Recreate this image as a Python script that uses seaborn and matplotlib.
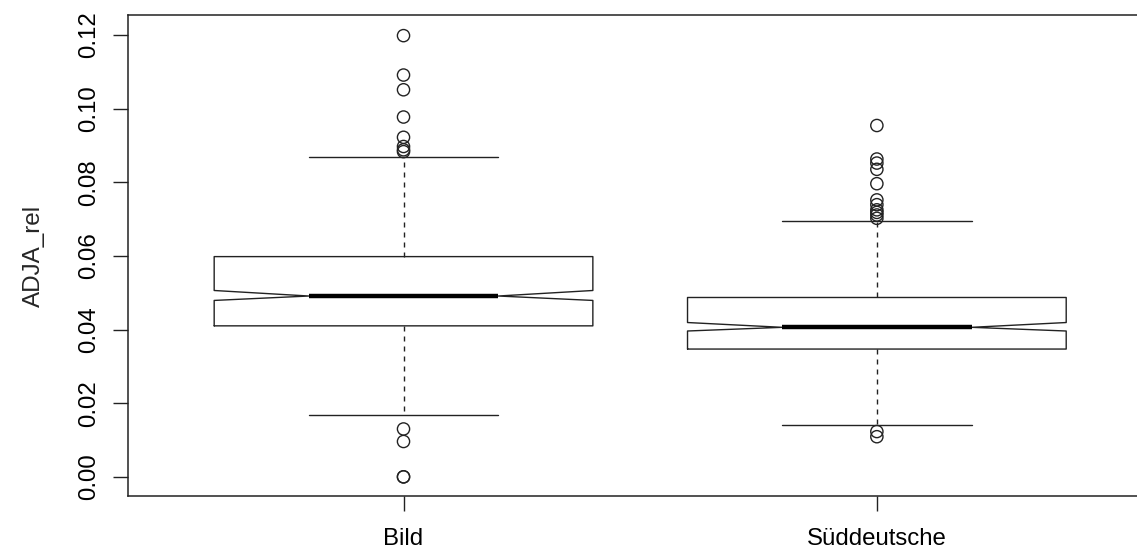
import numpy as np
import pandas as pd
import matplotlib
matplotlib.use("Agg")
import matplotlib.pyplot as plt
import seaborn as sns

# ----------------------- Werte
papers = ["Bild", "Süddeutsche"]
q1 = [0.0410, 0.0347]
median = [0.0491, 0.0406]
q3 = [0.0598, 0.0487]
whisker_lo = [0.0168, 0.0140]
whisker_hi = [0.0868, 0.0696]
notch_lo = [0.0479, 0.0396]
notch_hi = [0.0506, 0.0419]

outliers_bild = [0.1198, 0.1091, 0.1051, 0.0977, 0.0922, 0.0897, 0.0888, 0.0883,
                 0.0130, 0.0096, 0.0000, 0.0000]
outliers_sz = [0.0954, 0.0863, 0.0852, 0.0835, 0.0796, 0.0752, 0.0739, 0.0725,
               0.0718, 0.0711, 0.0702, 0.0123, 0.0109]

y_ticks = [0.00, 0.02, 0.04, 0.06, 0.08, 0.10, 0.12]

sns.set_theme(style="ticks")
plt.rcParams['font.family'] = ['Liberation Sans', 'DejaVu Sans']

line_col = "#222222"

stats = []
for i, name in enumerate(papers):
    stats.append({
        "label": name,
        "med": median[i],
        "q1": q1[i],
        "q3": q3[i],
        "whislo": whisker_lo[i],
        "whishi": whisker_hi[i],
        "cilo": notch_lo[i],
        "cihi": notch_hi[i],
        "fliers": [],
    })

outlier_df = pd.DataFrame({
    "paper": [papers[0]] * len(outliers_bild) + [papers[1]] * len(outliers_sz),
    "ADJA_rel": outliers_bild + outliers_sz,
})

fig = plt.figure(figsize=(11.37, 5.54), dpi=100)
# rechte Kante des Rahmens liegt ausserhalb des Bildes (wie im Original)
ax = fig.add_axes([0.1126, 0.1047, 0.9009, 0.8682])

ax.bxp(stats, positions=[0, 1], widths=0.8, shownotches=True, showfliers=False,
       boxprops=dict(color=line_col, linewidth=1.0),
       whiskerprops=dict(color=line_col, linewidth=1.0, linestyle=(0, (3.6, 3.6))),
       capprops=dict(color=line_col, linewidth=1.0),
       medianprops=dict(color="black", linewidth=3.2, solid_capstyle="butt"))

sns.stripplot(data=outlier_df, x="paper", y="ADJA_rel", order=papers, jitter=False,
              marker="o", size=8.8, linewidth=1.0, edgecolor=line_col, color="white",
              ax=ax, zorder=3)
for coll in ax.collections:
    coll.set_facecolor("none")
    coll.set_edgecolor(line_col)

ax.set_xlim(-0.582, 1.582)
ax.set_ylim(-0.0052, 0.1254)
ax.set_xticks([0, 1])
ax.set_xticklabels(papers)
ax.set_yticks(y_ticks)
ax.set_yticklabels([f"{v:.2f}" for v in y_ticks], rotation=90, va="center")
ax.set_xlabel("")
ax.set_ylabel("ADJA_rel", fontsize=17.5, labelpad=24)

ax.tick_params(axis="both", length=10.8, width=1.0, color=line_col, labelsize=17.3,
               labelcolor="black")
ax.tick_params(axis="x", pad=12.6)
ax.tick_params(axis="y", pad=9.4)
for side in ["left", "top", "bottom"]:
    ax.spines[side].set_color(line_col)
    ax.spines[side].set_linewidth(1.1)
ax.spines["right"].set_visible(False)
ax.grid(False)

fig.savefig("out.png", dpi=100)
